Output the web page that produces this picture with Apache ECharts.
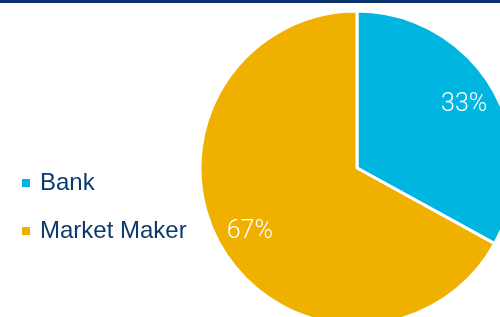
<!DOCTYPE html>
<html>
<head>
<meta charset="utf-8">
<script src="https://cdn.jsdelivr.net/npm/echarts@6/dist/echarts.min.js"></script>
<style>
  html, body { margin: 0; padding: 0; background: #fff; }
  #chart { width: 500px; height: 317px; }
</style>
</head>
<body>
<div id="chart"></div>
<script>
// slice names and shares (percent)
var categories = ['Bank', 'Market Maker'];
var values = [33, 67];
var colors = ['#00b5e0', '#efb000'];

var legendFont = "'Liberation Sans Narrow', 'Liberation Sans', sans-serif";
var labelFont = "Roboto, 'Liberation Sans', sans-serif";

var chartDom = document.getElementById('chart');
var myChart = echarts.init(chartDom);

var pieData = categories.map(function (name, i) {
    return { name: name, value: values[i], itemStyle: { color: colors[i] } };
});

var option = {
    animation: false,
    graphic: [
        {
            type: 'rect',
            shape: { x: 0, y: 0, width: 500, height: 3 },
            style: { fill: '#0a3469' }
        }
    ],
    legend: {
        orient: 'vertical',
        left: 15,
        top: 166,
        itemWidth: 10,
        itemHeight: 10,
        itemGap: 24,
        icon: 'rect',
        textStyle: {
            color: '#0b3a6e',
            fontSize: 24,
            fontFamily: legendFont,
            padding: [0, 0, 0, 4]
        },
        data: categories
    },
    series: [
        {
            // main pie, no labels
            type: 'pie',
            center: [357, 168],
            radius: [0, 157],
            startAngle: 90,
            clockwise: true,
            silent: true,
            itemStyle: { borderColor: '#fff', borderWidth: 3 },
            label: { show: false },
            labelLine: { show: false },
            data: pieData
        },
        {
            // transparent ring, only used to place the percent labels
            type: 'pie',
            center: [357, 168],
            radius: [86, 157],
            startAngle: 90,
            clockwise: true,
            silent: true,
            legendHoverLink: false,
            itemStyle: { color: 'rgba(0,0,0,0)', borderWidth: 0 },
            label: {
                show: true,
                position: 'inside',
                formatter: '{c}%',
                color: '#fff',
                fontSize: 25,
                fontWeight: 300,
                fontFamily: labelFont
            },
            labelLine: { show: false },
            data: categories.map(function (name, i) {
                return { name: name + ' ', value: values[i] };
            })
        }
    ]
};

option && myChart.setOption(option);
</script>
</body>
</html>
